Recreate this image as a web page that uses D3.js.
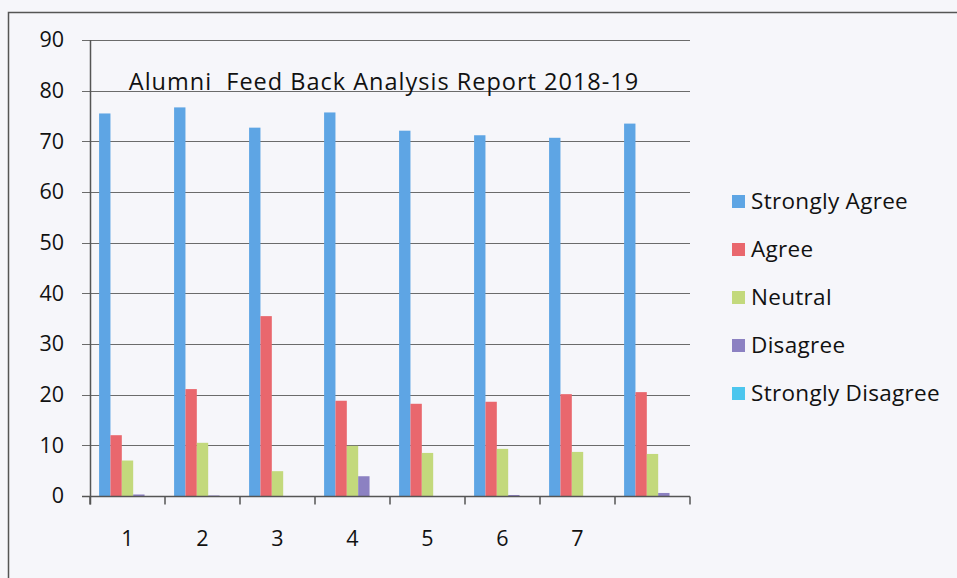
<!DOCTYPE html>
<html lang="en">
<head>
  <meta charset="UTF-8">
  <title>Alumni Feed Back Analysis Report 2018-19</title>
  <script src="https://cdn.jsdelivr.net/npm/d3@7"></script>
  <style>
    body {
      margin: 0;
      background-color: #f6f6fa;
    }

    svg {
      display: block;
      font-family: "Open Sans", Lato, sans-serif;
    }

    .title {
      white-space: pre;
      letter-spacing: 1px;
    }
  </style>
</head>
<body>
  <div id="chart"></div>
  <script>
    const groups = ['1', '2', '3', '4', '5', '6', '7', '']
    const seriesNames = ['Strongly Agree', 'Agree', 'Neutral', 'Disagree', 'Strongly Disagree']
    const stronglyAgree = [75.5, 76.7, 72.7, 75.7, 72.1, 71.2, 70.7, 73.5]
    const agree = [12.0, 21.1, 35.5, 18.8, 18.2, 18.6, 20.1, 20.5]
    const neutral = [7.0, 10.5, 4.9, 9.9, 8.5, 9.3, 8.7, 8.3]
    const disagree = [0.3, 0.1, 0, 3.9, 0, 0.2, 0, 0.6]
    const stronglyDisagree = [0, 0, 0, 0, 0, 0, 0, 0]
    const yTicks = [0, 10, 20, 30, 40, 50, 60, 70, 80, 90]

    const colors = ['#5ea5e4', '#e9676d', '#c3d97c', '#8c81c2', '#4cc6ee']
    const seriesValues = [stronglyAgree, agree, neutral, disagree, stronglyDisagree]

    const width = 957
    const height = 578
    const margin = { top: 40, left: 90, right: 267, bottom: 82 }

    const svg = d3.select('#chart')
      .append('svg')
      .attr('width', width)
      .attr('height', height)

    // outer frame (only top and left edges show in the scan)
    svg.append('path')
      .attr('d', `M8.5,${height} V12.5 H${width}`)
      .attr('fill', 'none')
      .attr('stroke', '#555')
      .attr('stroke-width', 1.5)

    const xScale = d3.scaleBand()
      .domain(d3.range(groups.length))
      .range([margin.left, width - margin.right])

    const xInner = d3.scaleBand()
      .domain(d3.range(seriesNames.length))
      .range([0, xScale.bandwidth()])
      .paddingInner(0)
      .paddingOuter(0.8)

    const yScale = d3.scaleLinear()
      .domain([0, 90])
      .range([height - margin.bottom, margin.top])

    // gridlines
    svg.append('g')
      .selectAll('line')
      .data(yTicks)
      .enter()
      .append('line')
      .attr('x1', margin.left - 8)
      .attr('x2', width - margin.right)
      .attr('y1', d => Math.round(yScale(d)) + 0.5)
      .attr('y2', d => Math.round(yScale(d)) + 0.5)
      .attr('stroke', '#6b6b6b')
      .attr('stroke-width', 1.2)

    // y axis labels
    const yAxis = d3.axisLeft(yScale)
      .tickValues(yTicks)
      .tickSize(0)
      .tickPadding(26)

    svg.append('g')
      .attr('transform', `translate(${margin.left}, 0)`)
      .call(yAxis)
      .call(g => g.select('.domain').remove())
      .call(g => g.selectAll('text')
        .style('font-family', '"Open Sans", sans-serif')
        .style('font-size', '21.5px')
        .attr('fill', '#111'))

    // title sits on the 80 gridline
    svg.append('text')
      .attr('class', 'title')
      .attr('x', 384)
      .attr('y', yScale(80) - 1)
      .attr('text-anchor', 'middle')
      .style('font-size', '23.5px')
      .attr('fill', '#111')
      .text('Alumni  Feed Back Analysis Report 2018-19')

    // bars
    const groupSel = svg.append('g')
      .selectAll('g')
      .data(groups.map((g, i) => i))
      .enter()
      .append('g')
      .attr('transform', i => `translate(${xScale(i)}, 0)`)

    groupSel.selectAll('rect')
      .data(i => seriesValues.map((vals, s) => ({ s, v: vals[i] })))
      .enter()
      .append('rect')
      .attr('x', d => xInner(d.s))
      .attr('width', xInner.bandwidth())
      .attr('y', d => yScale(d.v))
      .attr('height', d => yScale(0) - yScale(d.v))
      .attr('fill', d => colors[d.s])

    // x axis
    const xAxisY = Math.round(yScale(0)) + 0.5
    svg.append('line')
      .attr('x1', margin.left - 8)
      .attr('x2', width - margin.right)
      .attr('y1', xAxisY)
      .attr('y2', xAxisY)
      .attr('stroke', '#555')
      .attr('stroke-width', 1.5)

    svg.append('line')
      .attr('x1', margin.left + 0.5)
      .attr('x2', margin.left + 0.5)
      .attr('y1', margin.top)
      .attr('y2', xAxisY + 8)
      .attr('stroke', '#555')
      .attr('stroke-width', 1.5)

    svg.append('g')
      .selectAll('line')
      .data(d3.range(groups.length + 1))
      .enter()
      .append('line')
      .attr('x1', i => margin.left + i * xScale.step())
      .attr('x2', i => margin.left + i * xScale.step())
      .attr('y1', xAxisY)
      .attr('y2', xAxisY + 8)
      .attr('stroke', '#555')
      .attr('stroke-width', 1.5)

    svg.append('g')
      .selectAll('text')
      .data(groups)
      .enter()
      .append('text')
      .attr('x', (d, i) => xScale(i) + xScale.bandwidth() / 2)
      .attr('y', 546)
      .attr('text-anchor', 'middle')
      .style('font-size', '21.5px')
      .attr('fill', '#111')
      .text(d => d)

    // legend
    const legend = svg.append('g')
      .attr('id', 'legend')

    legend.selectAll('rect')
      .data(seriesNames)
      .enter()
      .append('rect')
      .attr('x', 732)
      .attr('y', (d, i) => 195 + i * 48)
      .attr('width', 13)
      .attr('height', 13)
      .attr('fill', (d, i) => colors[i])

    legend.selectAll('text')
      .data(seriesNames)
      .enter()
      .append('text')
      .attr('x', 751)
      .attr('y', (d, i) => 209 + i * 48)
      .style('font-size', '22.5px')
      .style('letter-spacing', '0.3px')
      .attr('fill', '#111')
      .text(d => d)
  </script>
</body>
</html>
